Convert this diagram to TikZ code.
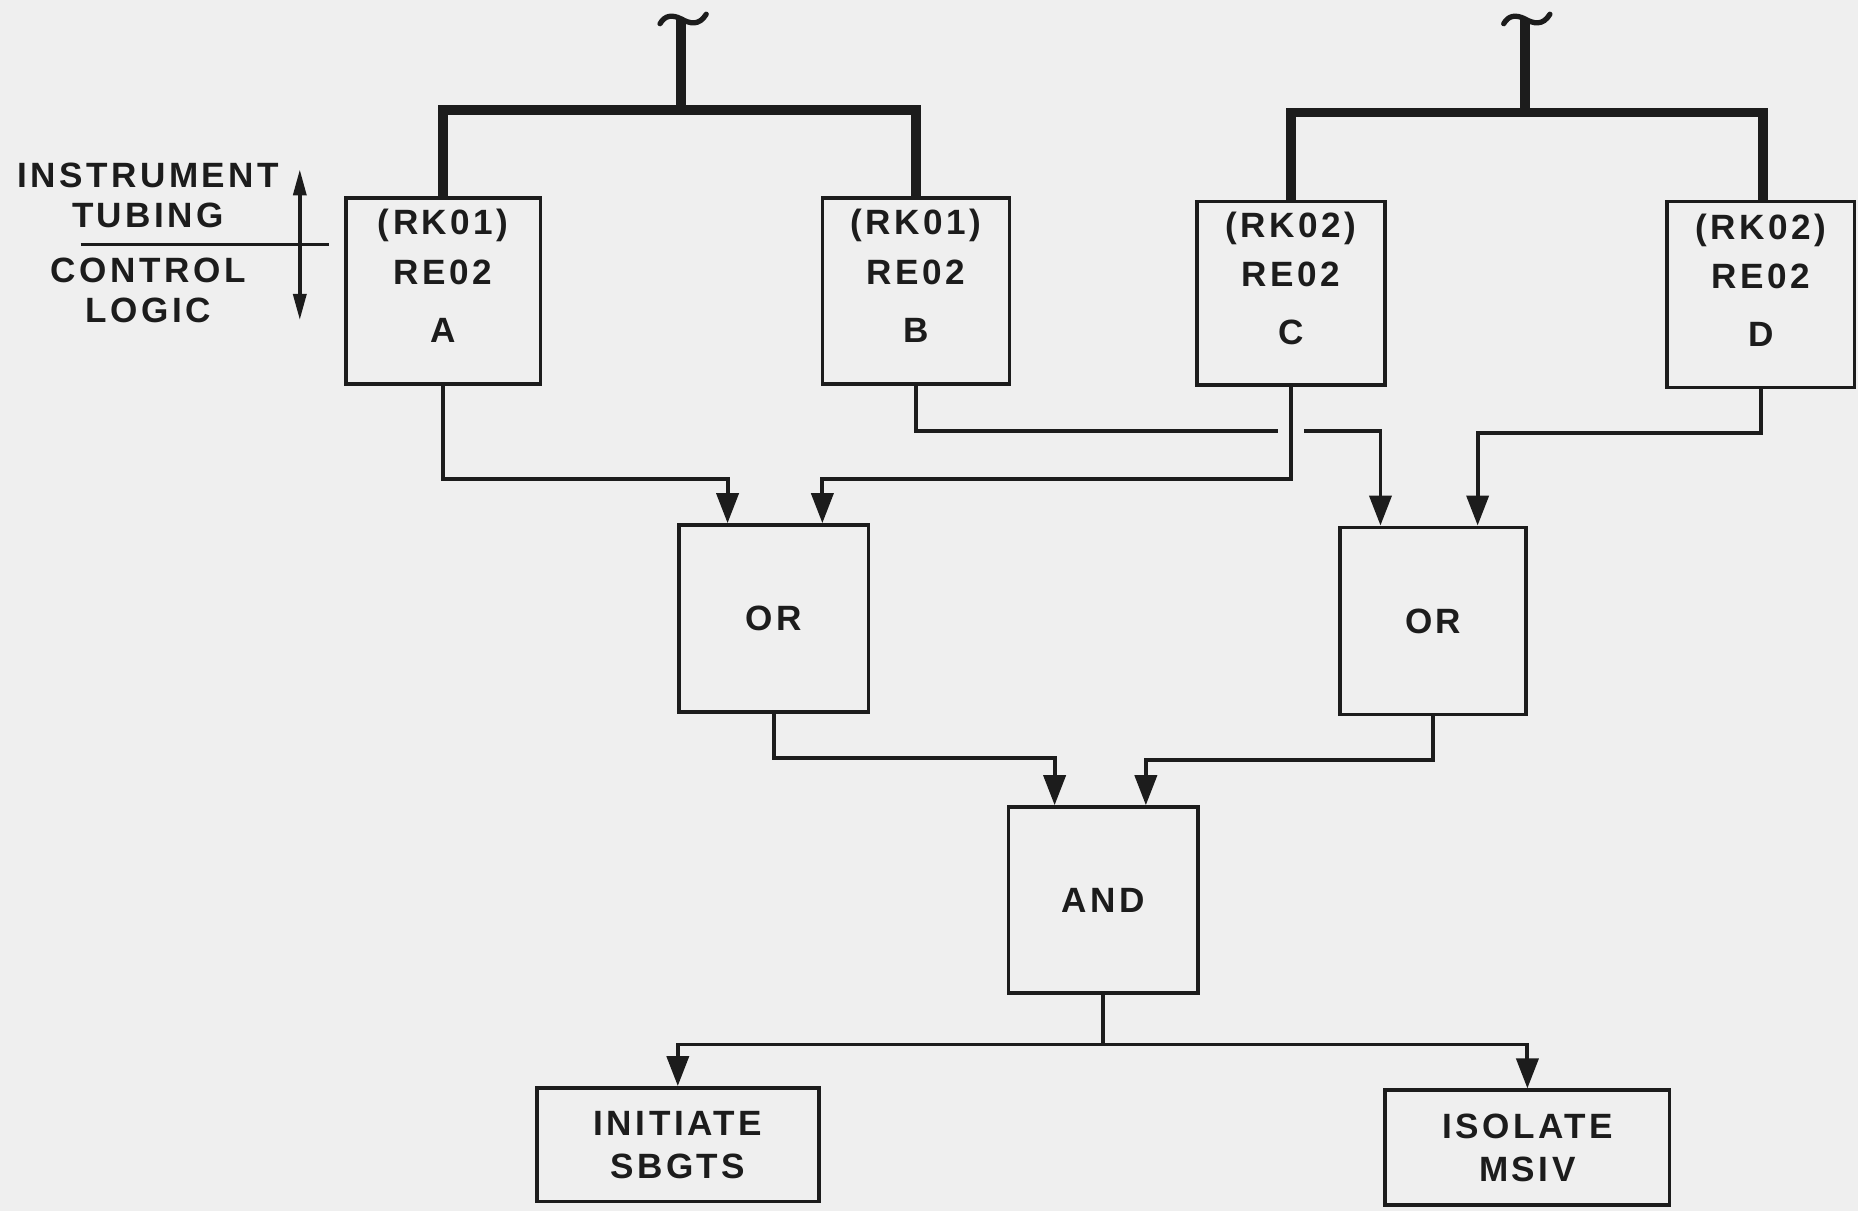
\documentclass[tikz,border=0pt]{standalone}
\usepackage{fontspec}
\newfontfamily\lblfont[LetterSpace=10]{Liberation Sans}
\usetikzlibrary{arrows.meta,calc}
\definecolor{ink}{RGB}{28,28,28}
\definecolor{paper}{RGB}{239,239,239}
\begin{document}
\begin{tikzpicture}[x=0.01185cm,y=-0.01185cm,
  lbl/.style={font=\lblfont\bfseries\fontsize{10}{12}\selectfont, text=ink, align=center, inner sep=0pt},
  box/.style 2 args={draw=ink, line width=1pt, minimum width=#1*0.01185cm, minimum height=#2*0.01185cm, inner sep=0pt, lbl},
  heavy/.style={draw=ink, line width=2.8pt},
  plain/.style={draw=ink, line width=1.1pt},
  conn/.style={plain, -{Triangle[length=0.3cm,width=0.22cm]}},
  squig/.style={draw=ink, line width=1.5pt, line cap=round},
]
\fill[paper] (0,0) rectangle (1568,1022);
\useasboundingbox (0,0) rectangle (1568,1022);

% relay boxes
\node[box={164}{157}] (A) at (374,245.5) {};
\node[box={158}{157}] (B) at (773,245.5) {};
\node[box={159}{155}] (C) at (1089.5,247.5) {};
\node[box={158}{157}] (D) at (1486,248.5) {};
\node[lbl] (At) at ($(A.center)+(0,-12.5)$) {(RK01)\\[2pt]RE02\\[4.7pt]A};
\node[lbl] (Bt) at ($(B.center)+(0,-12.5)$) {(RK01)\\[2pt]RE02\\[4.7pt]B};
\node[lbl] (Ct) at ($(C.center)+(0,-12.5)$) {(RK02)\\[2pt]RE02\\[4.7pt]C};
\node[lbl] (Dt) at ($(D.center)+(0,-12)$) {(RK02)\\[2pt]RE02\\[4.7pt]D};

% logic boxes
\node[box={160}{158}] (OR1) at (653,522) {OR};
\node[box={157}{158}] (OR2) at (1209.5,524) {OR};
\node[box={160}{157}] (AND) at (931,759.5) {AND};
\node[box={238}{96}] (INIT) at (572,966) {INITIATE\\[0.2pt]SBGTS};
\node[box={240}{97}] (ISO) at (1289,968.5) {ISOLATE\\[0.2pt]MSIV};

% left legend
\node[lbl] (instr) at (125,165) {INSTRUMENT\\[-0.5pt]TUBING};
\node[lbl] (ctrl) at (125,245) {CONTROL\\[-0.5pt]LOGIC};
\coordinate (dl) at (68,206);
\coordinate (dr) at (278,206);
\draw[draw=ink, line width=0.9pt] (dl) -- (dr);
\coordinate (au) at (253,143);
\coordinate (ad) at (253,270);
\draw[plain, line width=1pt, {Triangle[length=0.26cm,width=0.13cm]}-{Triangle[length=0.26cm,width=0.13cm]}] (au) -- (ad);

% instrument tubing (heavy)
\coordinate (j1) at (575,93);
\coordinate (t1) at (575,16);
\coordinate (j2) at (1287,95);
\coordinate (t2) at (1287,16);
\draw[heavy] (A.north) |- (j1) -| (B.north);
\draw[heavy] (j1) -- (t1);
\draw[heavy] (C.north) |- (j2) -| ($(D.north)+(2,0)$);
\draw[heavy] (j2) -- (t2);
\draw[squig, shift={(t1)}] (-18,4) .. controls (-14,-3) and (-8,-4) .. (0,0) .. controls (7,4) and (15,6) .. (21,-4);
\draw[squig, shift={(t2)}] (-18,4) .. controls (-14,-3) and (-8,-4) .. (0,0) .. controls (7,4) and (15,6) .. (21,-4);

% input points
\coordinate (or1a) at ($(OR1.north)+(-39,0)$);
\coordinate (or1b) at ($(OR1.north)+(41,0)$);
\coordinate (or2a) at ($(OR2.north)+(-44.5,0)$);
\coordinate (or2b) at ($(OR2.north)+(37.5,0)$);
\coordinate (anda) at ($(AND.north)+(-41,0)$);
\coordinate (andb) at ($(AND.north)+(36,0)$);
\coordinate (g1) at ($(C.south)+(-11,37)$);
\coordinate (g2) at ($(C.south)+(11,37)$);
\coordinate (split) at ($(AND.south)+(0,42)$);

% control logic connectors
\draw[conn] (A.south) -- ++(0,79) -| (or1a);
\draw[conn] (C.south) -- ++(0,78) -| (or1b);
\draw[plain] (B.south) |- (g1);
\draw[conn] (g2) -| (or2a);
\draw[conn] (D.south) -- ++(0,37) -| (or2b);
\draw[conn] (OR1.south) -- ++(0,37) -| (anda);
\draw[conn] (OR2.south) -- ++(0,37) -| (andb);
\draw[plain] (AND.south) -- (split);
\draw[conn] (split) -| (INIT.north);
\draw[conn] (split) -| (ISO.north);
\end{tikzpicture}
\end{document}
